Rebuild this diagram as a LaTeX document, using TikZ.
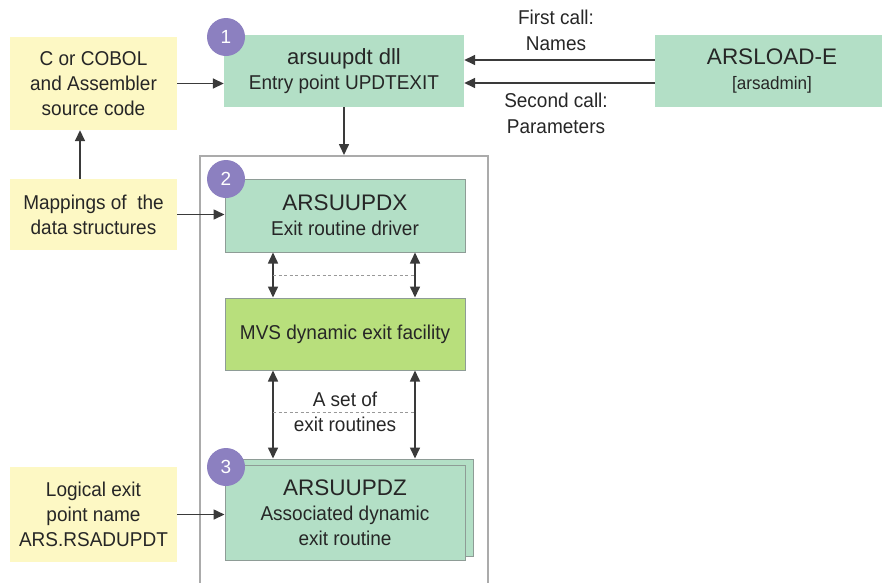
\documentclass[tikz,border=0pt]{standalone}
\usepackage{fontspec}
\setmainfont{Liberation Sans}[FakeStretch=0.95]
\newfontfamily\titlefont{Liberation Sans}
\usetikzlibrary{arrows.meta,calc}

\definecolor{mint}{HTML}{B3DFC6}
\definecolor{paleyellow}{HTML}{FDF8C4}
\definecolor{lime}{HTML}{B8DF7C}
\definecolor{badge}{HTML}{8C80C0}
\definecolor{edge}{HTML}{8E9C96}
\definecolor{framegray}{HTML}{ABABAB}
\definecolor{ink}{HTML}{262626}
\definecolor{wire}{HTML}{3A3A3A}

\begin{document}
\begin{tikzpicture}[x=1pt,y=-1pt,
  box/.style={rectangle, fill=mint, minimum width=240pt, minimum height=72pt,
    inner sep=0pt, align=center, text=ink, font=\fontsize{20}{25}\selectfont},
  outlined/.style={draw=edge, line width=1pt},
  src/.style={rectangle, fill=paleyellow, minimum width=167pt, inner sep=0pt,
    align=center, text=ink, font=\fontsize{20}{25}\selectfont},
  badgenode/.style={circle, fill=badge, text=white, minimum size=38pt, inner sep=0pt,
    font=\titlefont\fontsize{19}{19}\selectfont},
  lbl/.style={align=center, text=ink, inner sep=0pt, font=\fontsize{20}{26}\selectfont},
  tip/.tip={Triangle[length=11pt,width=10pt]},
  arr/.style={draw=wire, line width=1.6pt, -tip},
  dbl/.style={draw=wire, line width=1.6pt, tip-tip},
  dotline/.style={draw=gray!80, line width=0.8pt, dash pattern=on 3pt off 2.5pt}]

\useasboundingbox (0,0) rectangle (882,582);

% enclosing frame of the exit machinery
\node[draw=framegray, line width=1.5pt, minimum width=288pt, minimum height=480pt,
  inner sep=0pt, anchor=north] (grp) at (344,155) {};

% source inputs
\node[src, minimum height=93pt] (srccode) at (93.5,83.5) {C or COBOL\\and Assembler\\source code};
\node[src, minimum height=71pt] (maps) at (93.5,214.5) {Mappings of\ \ the\\data structures};
\node[src, minimum height=95pt] (logical) at (93.5,514.5) {Logical exit\\point name\\ARS.RSADUPDT};

% main components
\node[box] (dll) at (344,71) {{\titlefont\fontsize{22}{25}\selectfont arsuupdt dll}\\Entry point UPDTEXIT};
\node[box, minimum width=234pt] (arsload) at (772,71)
  {{\titlefont\fontsize{22.5}{25}\selectfont ARSLOAD-E}\\{\fontsize{18}{25}\selectfont [arsadmin]}};
\node[box, outlined, minimum height=73pt] (driver) at (345,215.5)
  {{\titlefont\fontsize{22.5}{25}\selectfont ARSUUPDX}\\Exit routine driver};
\node[box, outlined, fill=lime] (mvs) at (345,334) {MVS dynamic exit facility};
\node[box, outlined, minimum height=97pt] (routineback) at (353,507.5) {};
\node[box, outlined, minimum height=95pt] (routine) at (345,512.5)
  {{\titlefont\fontsize{22.5}{25}\selectfont ARSUUPDZ}\\Associated dynamic\\exit routine};

% step numbers
\node[badgenode] (n1) at (226,37) {1};
\node[badgenode] (n2) at (226,179) {2};
\node[badgenode] (n3) at (226,467) {3};

% inputs into the components
\draw[arr] (srccode.east) -- (srccode.east -| dll.west);
\draw[arr] (maps.east) -- (maps.east -| driver.west);
\draw[arr] (logical.east) -- (logical.east -| routine.west);
\draw[arr] ([xshift=-13.5pt]maps.north) -- ([xshift=-13.5pt]srccode.south);

% ARSLOAD calls
\draw[arr] ([yshift=11pt]arsload.west) -- ([yshift=11pt]arsload.west -| dll.east);
\draw[arr] ([yshift=-12pt]arsload.west) -- ([yshift=-12pt]arsload.west -| dll.east);
\node[lbl] (call1) at (556,30) {First call:\\Names};
\node[lbl] (call2) at (556,113) {Second call:\\Parameters};

% dll into the exit machinery
\draw[arr] (dll.south) -- (dll.south |- grp.north);

% driver <-> facility <-> routines
\coordinate (la) at (273,0);
\coordinate (ra) at (415,0);
\draw[dbl] (la |- driver.south) -- (la |- mvs.north);
\draw[dbl] (ra |- driver.south) -- (ra |- mvs.north);
\draw[dbl] (la |- mvs.south) -- (la |- routineback.north);
\draw[dbl] (ra |- mvs.south) -- (ra |- routineback.north);
\draw[dotline] ($(la |- driver.south)!0.5!(la |- mvs.north)$) -- ($(ra |- driver.south)!0.5!(ra |- mvs.north)$);
\draw[dotline] (273,412) -- (415,412);
\node[lbl, font=\fontsize{20}{25}\selectfont] (setof) at (345,412) {A set of\\exit routines};

\end{tikzpicture}
\end{document}
